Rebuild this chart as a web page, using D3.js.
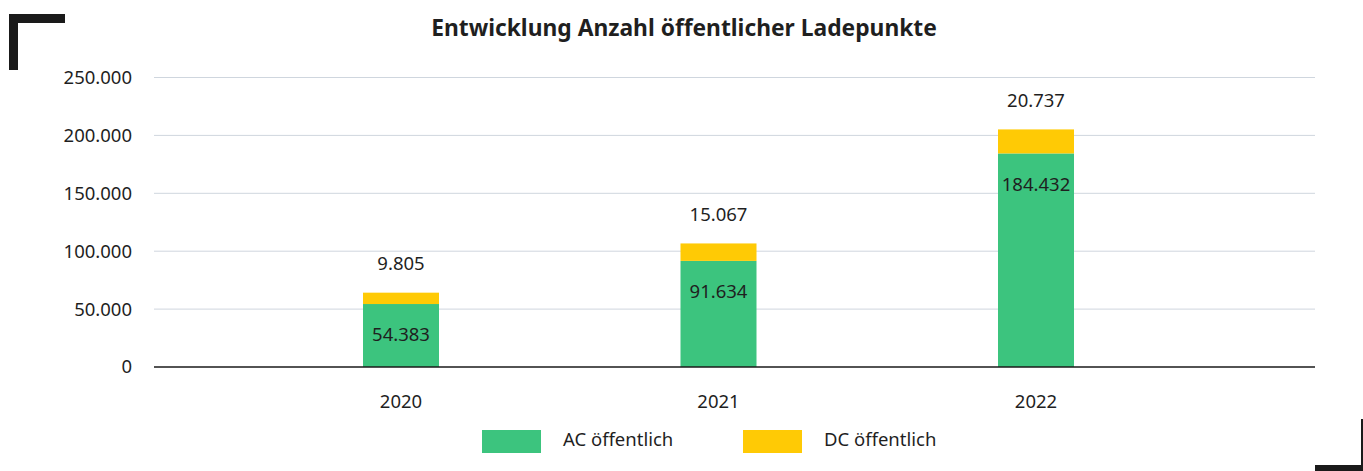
<!DOCTYPE html>
<html lang="de">
<head>
  <meta charset="UTF-8">
  <title>Entwicklung Anzahl öffentlicher Ladepunkte</title>
  <script src="https://d3js.org/d3.v7.min.js"></script>
  <style>
    body { margin: 0; background: #fff; }
    svg text { font-family: "Noto Sans", sans-serif; fill: #1f1f1f; }
  </style>
</head>
<body>
  <div id="chart"></div>
  <script>
    // data
    const years = ["2020", "2021", "2022"];
    const acValues = [54383, 91634, 184432];
    const dcValues = [9805, 15067, 20737];
    const yTicks = [0, 50000, 100000, 150000, 200000, 250000];
    const seriesNames = ["AC öffentlich", "DC öffentlich"];
    const seriesColors = ["#3cc47e", "#ffca05"];

    const width = 1363;
    const height = 471;

    const svg = d3.select("#chart")
      .append("svg")
      .attr("width", width)
      .attr("height", height)
      .style("display", "block");

    // corner marks
    svg.append("path")
      .attr("d", "M9,70 V14 H65 V23 H18 V70 Z")
      .attr("fill", "#1a1a1a");
    svg.append("path")
      .attr("d", "M1361,419 H1372 V476 H1315 V465 H1361 Z")
      .attr("fill", "#1a1a1a");

    svg.append("text")
      .attr("x", 684)
      .attr("y", 36)
      .attr("text-anchor", "middle")
      .style("font-size", "22.8px")
      .style("font-weight", "bold")
      .text("Entwicklung Anzahl öffentlicher Ladepunkte");

    const x = d3.scalePoint()
      .domain(years)
      .range([401, 1036]);
    const barWidth = 76;

    const y = d3.scaleLinear()
      .domain([0, 250000])
      .range([367, 77.5]);

    const fmt = d3.formatLocale({ decimal: ",", thousands: ".", grouping: [3], currency: ["", "€"] }).format(",d");

    // grid
    svg.append("g")
      .selectAll("line")
      .data(yTicks.filter(d => d > 0))
      .enter()
      .append("line")
      .attr("x1", 154)
      .attr("x2", 1315)
      .attr("y1", d => y(d))
      .attr("y2", d => y(d))
      .attr("stroke", "#cfd6de")
      .attr("stroke-width", 1);

    svg.append("g")
      .selectAll("text")
      .data(yTicks)
      .enter()
      .append("text")
      .attr("x", 132)
      .attr("y", d => y(d))
      .attr("dy", "0.35em")
      .attr("text-anchor", "end")
      .style("font-size", "18.5px")
      .text(d => fmt(d));

    // stacked bars
    const bars = svg.append("g");
    years.forEach((yr, i) => {
      const ac = acValues[i];
      const dc = dcValues[i];
      bars.append("rect")
        .attr("x", x(yr) - barWidth / 2)
        .attr("width", barWidth)
        .attr("y", y(ac))
        .attr("height", y(0) - y(ac))
        .attr("fill", seriesColors[0]);
      bars.append("rect")
        .attr("x", x(yr) - barWidth / 2)
        .attr("width", barWidth)
        .attr("y", y(ac + dc))
        .attr("height", y(ac) - y(ac + dc))
        .attr("fill", seriesColors[1]);

      bars.append("text")
        .attr("x", x(yr))
        .attr("y", y(ac) + 31)
        .attr("dy", "0.35em")
        .attr("text-anchor", "middle")
        .style("font-size", "18.5px")
        .text(fmt(ac));
      bars.append("text")
        .attr("x", x(yr))
        .attr("y", y(ac + dc) - 29)
        .attr("dy", "0.35em")
        .attr("text-anchor", "middle")
        .style("font-size", "18.5px")
        .text(fmt(dc));

      svg.append("text")
        .attr("x", x(yr))
        .attr("y", 402)
        .attr("dy", "0.35em")
        .attr("text-anchor", "middle")
        .style("font-size", "18.5px")
        .text(yr);
    });

    // baseline
    svg.append("line")
      .attr("x1", 154)
      .attr("x2", 1315)
      .attr("y1", y(0))
      .attr("y2", y(0))
      .attr("stroke", "#1a1a1a")
      .attr("stroke-width", 1.3);

    // legend
    const legendX = [482, 743];
    const legend = svg.append("g");
    seriesNames.forEach((name, i) => {
      legend.append("rect")
        .attr("x", legendX[i])
        .attr("y", 430)
        .attr("width", 59)
        .attr("height", 23)
        .attr("fill", seriesColors[i]);
      legend.append("text")
        .attr("x", legendX[i] + 81)
        .attr("y", 440)
        .attr("dy", "0.35em")
        .style("font-size", "18.5px")
        .text(name);
    });
  </script>
</body>
</html>
